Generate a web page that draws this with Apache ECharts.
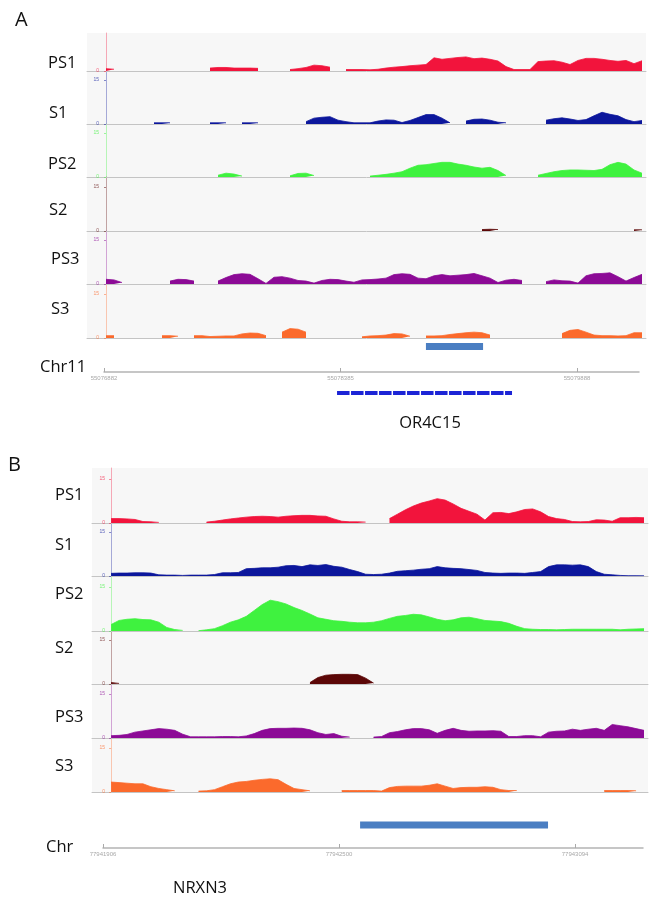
<!DOCTYPE html>
<html>
<head>
<meta charset="utf-8">
<script src="https://cdn.jsdelivr.net/npm/echarts@6/dist/echarts.min.js"></script>
<style>
  html, body { margin: 0; padding: 0; background: #fff; }
  #chart { width: 649px; height: 899px; }
</style>
</head>
<body>
<div id="chart"></div>
<script>
const _ = null; // no coverage in this bin

const trackNames = ['PS1', 'S1', 'PS2', 'S2', 'PS3', 'S3'];
const trackColors = ['#f2143c', '#0c179c', '#3ff23f', '#5c0707', '#8c0a96', '#fb6a2c'];
const yTicks = [0, 15];

// panel A: chr11 around OR4C15, one coverage value per bin (68 bins)
const ps1A = [0.8,0.6,_,_,_,_,_,_,_,_,_,_,_,1.0,1.2,1.2,1.0,1.0,1.0,0.9,_,_,_,0.5,0.8,1.2,2.0,1.8,1.3,_,0.5,0.5,0.5,0.4,0.6,1.0,1.3,1.5,1.8,2.0,2.2,4.5,4.0,4.3,4.6,4.8,4.2,4.4,4.0,3.4,1.5,0.5,0.5,0.5,3.2,3.4,3.5,3.0,2.2,3.6,4.3,4.3,4.0,3.6,3.3,3.6,2.5,3.5];
const s1A = [_,_,_,_,_,_,0.4,0.4,0.4,_,_,_,_,0.4,0.4,0.4,_,0.4,0.4,0.4,_,_,_,_,_,0.8,2.0,2.3,2.5,1.3,0.8,0.4,0.4,0.4,1.0,1.4,1.3,0.5,1.2,2.2,3.2,3.2,2.0,0.4,_,1.0,1.6,1.7,1.3,0.6,0.4,_,_,_,_,1.3,1.8,2.1,1.7,1.2,1.5,2.8,4.0,3.3,2.8,1.5,0.8,1.2];
const ps2A = [_,_,_,_,_,_,_,_,_,_,_,_,_,_,0.6,1.3,1.0,0.3,_,_,_,_,_,0.4,1.2,1.3,0.5,_,_,_,_,_,_,0.3,0.6,0.9,1.3,1.8,3.0,4.0,4.2,4.6,5.0,5.0,4.4,4.0,3.4,3.0,3.3,2.2,0.5,_,_,_,0.6,1.2,1.8,2.2,2.4,2.4,2.3,2.2,2.6,4.2,5.0,4.4,2.4,1.3];
const s2A = [_,_,_,_,_,_,_,_,_,_,_,_,_,_,_,_,_,_,_,_,_,_,_,_,_,_,_,_,_,_,_,_,_,_,_,_,_,_,_,_,_,_,_,_,_,_,_,0.5,0.6,0.5,_,_,_,_,_,_,_,_,_,_,_,_,_,_,_,_,0.4,0.4];
const ps3A = [1.6,1.4,0.5,_,_,_,_,_,1.0,1.6,1.5,1.0,_,_,1.0,2.2,3.2,3.5,3.3,1.8,0.2,2.3,2.5,2.0,1.2,1.0,0.3,1.2,1.6,1.5,1.0,0.6,1.4,1.5,1.7,2.0,3.2,3.5,3.3,2.0,1.8,2.8,3.2,2.8,3.0,3.2,3.6,2.8,2.0,0.5,1.3,1.6,1.2,_,_,0.8,1.4,1.1,1.0,0.3,2.8,3.5,3.6,3.8,2.5,1.0,2.2,3.3];
const s3A = [0.8,0.8,_,_,_,_,_,0.8,0.8,0.6,_,0.8,0.8,0.5,0.6,0.7,0.7,1.4,1.7,1.6,0.8,_,2.0,3.2,3.0,2.0,_,_,_,_,_,_,0.4,0.7,0.8,1.0,1.5,1.4,0.6,_,0.7,0.7,0.8,1.2,1.5,1.8,2.0,1.8,1.0,_,_,_,_,_,_,_,_,1.5,2.6,2.9,2.0,1.0,0.8,0.8,0.7,0.8,1.8,1.8];

// panel B: NRXN3 locus
const ps1B = [1.5,1.5,1.4,1.2,0.5,0.4,0.2,_,_,_,_,_,0.3,0.6,1.0,1.4,1.7,2.0,2.2,2.3,2.2,2.0,2.3,2.5,2.6,2.6,2.4,2.3,1.4,0.6,0.4,0.4,0.3,_,_,1.5,3.0,4.5,5.8,6.8,7.5,8.3,7.8,6.5,5.0,4.0,3.0,1.0,3.5,3.6,3.2,3.8,4.6,4.8,3.8,2.2,1.5,1.2,0.5,0.4,0.5,1.1,1.0,0.6,1.8,1.8,1.9,1.8];
const s1B = [0.9,1.0,1.0,1.1,1.1,1.0,0.4,0.3,0.3,0.2,0.3,0.3,0.3,0.5,1.1,1.1,1.2,2.5,2.6,2.8,2.8,3.0,3.5,3.6,3.2,3.8,3.6,3.9,3.3,3.0,2.2,1.5,0.6,0.5,0.6,1.0,1.6,1.8,2.0,2.3,2.5,3.2,2.8,2.6,2.5,2.2,1.9,1.2,1.0,0.9,1.0,1.0,0.9,1.2,1.5,3.2,3.8,3.8,3.7,3.8,3.2,1.5,0.6,0.4,0.2,0.1,0.1,0.1];
const ps2B = [2.2,3.6,4.0,4.2,3.9,3.8,3.0,1.2,0.5,0.2,_,0.1,0.4,0.8,1.8,3.0,3.8,5.0,7.0,9.0,10.5,10.0,9.2,8.0,7.0,5.8,4.5,4.0,3.5,3.3,3.0,2.8,2.8,3.0,3.5,4.3,5.0,5.3,5.7,5.5,4.8,4.0,3.5,3.8,4.5,4.7,4.2,3.6,3.4,3.2,2.6,1.6,0.8,0.6,0.5,0.5,0.4,0.5,0.6,0.6,0.6,0.6,0.6,0.6,0.4,0.6,0.7,0.8];
const s2B = [0.5,0.2,_,_,_,_,_,_,_,_,_,_,_,_,_,_,_,_,_,_,_,_,_,_,_,0.5,2.2,3.0,3.2,3.3,3.3,3.2,2.0,0.3,_,_,_,_,_,_,_,_,_,_,_,_,_,_,_,_,_,_,_,_,_,_,_,_,_,_,_,_,_,_,_,_,_,_];
const ps3B = [0.8,0.9,1.2,2.0,2.4,2.8,3.2,3.0,2.6,1.3,0.4,0.4,0.4,0.4,0.5,0.5,0.4,0.7,1.5,2.6,3.2,3.3,3.3,3.4,3.3,2.8,1.8,1.2,1.5,0.6,0.3,_,_,0.3,0.5,1.8,2.2,2.8,3.2,3.2,2.8,1.6,2.6,3.3,2.6,2.3,2.4,2.4,2.5,2.3,0.5,0.5,0.8,0.8,0.4,2.0,2.3,2.4,3.0,2.6,3.0,3.3,2.6,4.6,4.2,3.8,3.2,2.6];
const s3B = [3.4,3.2,3.0,2.8,2.8,1.8,1.2,0.8,0.4,_,_,0.3,0.4,0.8,1.8,2.8,3.4,3.6,4.0,4.3,4.5,4.2,2.6,1.2,0.8,0.4,_,_,_,0.5,0.5,0.5,0.5,0.5,0.3,1.5,1.9,2.0,2.0,2.0,2.3,2.8,2.0,1.2,1.5,1.6,1.6,1.8,1.6,0.8,0.5,0.5,_,_,_,_,_,_,_,_,_,_,0.5,0.5,0.5,0.5,0.4,_];

// genomic axes and features
const chrTicksA = [55076882, 55078385, 55079888];
const chrTicksB = [77941906, 77942500, 77943094];
const regionA = [[55078928, 55079291]];
const geneA = [[55078363, 55079475]];
const regionB = [[77942553, 77943026]];

const PX_PER_UNIT = 44 / 15;

const panels = [
  {
    letter: 'A', letterPos: [15, 20],
    tracks: [ps1A, s1A, ps2A, s2A, ps3A, s3A],
    edges: [33, 71, 124, 177, 231, 284, 338],
    left: 87, right: 646, axisX: 101, xMin: -2.375, xMax: 67.5,
    labelX: [48, 49, 48, 49, 51, 51], labelY: [63, 113, 164, 210, 259, 309],
    chr: { name: 'Chr11', nameX: 40, nameY: 367, left: 104, width: 535, top: 340,
           min: 55076882, max: 55080282, lineY: 372, ticks: chrTicksA,
           region: regionA, regionY: 346.5, gene: geneA, geneY: 393 },
    geneName: 'OR4C15', geneNamePos: [430, 423]
  },
  {
    letter: 'B', letterPos: [8, 465],
    tracks: [ps1B, s1B, ps2B, s2B, ps3B, s3B],
    edges: [468, 523, 576, 631, 684, 738, 792],
    left: 92, right: 648, axisX: 107, xMin: -2.4, xMax: 67.5,
    labelX: [55, 55, 55, 55, 55, 55], labelY: [495, 545, 594, 648, 717, 766],
    chr: { name: 'Chr', nameX: 46, nameY: 847, left: 103, width: 540, top: 810,
           min: 77941906, max: 77943265, lineY: 848, ticks: chrTicksB,
           region: regionB, regionY: 825, gene: [], geneY: 0 },
    geneName: 'NRXN3', geneNamePos: [200, 888]
  }
];

const grid = [], xAxis = [], yAxis = [], series = [];
const graphic = [];
const labelFont = '"Open Sans", "Noto Sans", sans-serif';

function addText(text, x, y, size, align) {
  graphic.push({
    type: 'text', x, y, silent: true,
    style: { text, fontSize: size, fontFamily: labelFont, fill: '#111',
             align: align || 'left', verticalAlign: 'middle' }
  });
}

panels.forEach(p => {
  graphic.push({
    type: 'rect', z: -10, silent: true,
    shape: { x: p.left, y: p.edges[0], width: p.right - p.left, height: p.edges[6] - p.edges[0] },
    style: { fill: '#f7f7f7' }
  });
  addText(p.letter, p.letterPos[0], p.letterPos[1], 20);

  p.tracks.forEach((vals, k) => {
    const top = p.edges[k];
    const h = p.edges[k + 1] - top;
    const yMax = h / PX_PER_UNIT;
    const color = trackColors[k];
    const ticks = yTicks.filter(t => t <= yMax);
    const gi = grid.length;

    grid.push({ left: p.left, top, width: p.right - p.left, height: h });
    xAxis.push({
      type: 'value', gridIndex: gi, min: p.xMin, max: p.xMax,
      axisLine: { show: true, onZero: false, lineStyle: { color: '#c4c4c4', width: 1 } },
      axisTick: { show: false }, axisLabel: { show: false }, splitLine: { show: false }
    });
    yAxis.push({
      type: 'value', gridIndex: gi, min: 0, max: yMax,
      offset: p.left - p.axisX,
      axisLine: { show: true, lineStyle: { color, opacity: 0.35, width: 1 } },
      axisTick: { show: true, length: 2, customValues: ticks, lineStyle: { color, opacity: 0.5 } },
      axisLabel: { show: true, customValues: ticks, fontSize: 5, color, margin: 2, opacity: 0.7 },
      splitLine: { show: false }
    });
    series.push({
      type: 'line', xAxisIndex: gi, yAxisIndex: gi,
      data: vals.map((v, i) => [i, v == null ? '-' : v]),
      showSymbol: false, symbol: 'none', connectNulls: false, animation: false,
      lineStyle: { color, width: 0.8 },
      itemStyle: { color },
      areaStyle: { color, opacity: 1 },
      z: 3
    });
    addText(trackNames[k], p.labelX[k], p.labelY[k], 16.5);
  });

  // genomic coordinate axis with features
  const c = p.chr;
  const gi = grid.length;
  const gh = 60;
  grid.push({ left: c.left, top: c.top, width: c.width, height: gh });
  xAxis.push({
    type: 'value', gridIndex: gi, min: c.min, max: c.max, position: 'bottom',
    offset: c.lineY - (c.top + gh),
    axisLine: { show: true, onZero: false, lineStyle: { color: '#b4b4b4', width: 1.5 } },
    axisTick: { show: true, inside: true, length: 4, customValues: c.ticks, lineStyle: { color: '#aaa' } },
    axisLabel: { show: true, customValues: c.ticks, fontSize: 6, color: '#a8a8a8', margin: 3,
                 formatter: v => String(v) },
    splitLine: { show: false }
  });
  yAxis.push({ type: 'value', gridIndex: gi, min: 0, max: gh, inverse: true, show: false });

  series.push({
    type: 'custom', xAxisIndex: gi, yAxisIndex: gi, animation: false, z: 4,
    data: c.region.map(r => [r[0], r[1], c.regionY - c.top]),
    renderItem: (params, api) => {
      const a = api.coord([api.value(0), api.value(2)]);
      const b = api.coord([api.value(1), api.value(2)]);
      return { type: 'rect', shape: { x: a[0], y: a[1] - 3.5, width: b[0] - a[0], height: 7 },
               style: { fill: '#4a7ec2' } };
    }
  });
  series.push({
    type: 'custom', xAxisIndex: gi, yAxisIndex: gi, animation: false, z: 4,
    data: c.gene.map(r => [r[0], r[1], c.geneY - c.top]),
    renderItem: (params, api) => {
      const a = api.coord([api.value(0), api.value(2)]);
      const b = api.coord([api.value(1), api.value(2)]);
      return { type: 'line', shape: { x1: a[0], y1: a[1], x2: b[0], y2: b[1] },
               style: { stroke: '#1c24d6', lineWidth: 4, lineDash: [12.5, 1.5] } };
    }
  });

  addText(c.name, c.nameX, c.nameY, 16.5);
  addText(p.geneName, p.geneNamePos[0], p.geneNamePos[1], 16.5, 'center');
});

const chart = echarts.init(document.getElementById('chart'));
chart.setOption({
  backgroundColor: '#fff',
  animation: false,
  grid, xAxis, yAxis, series, graphic
});
</script>
</body>
</html>
